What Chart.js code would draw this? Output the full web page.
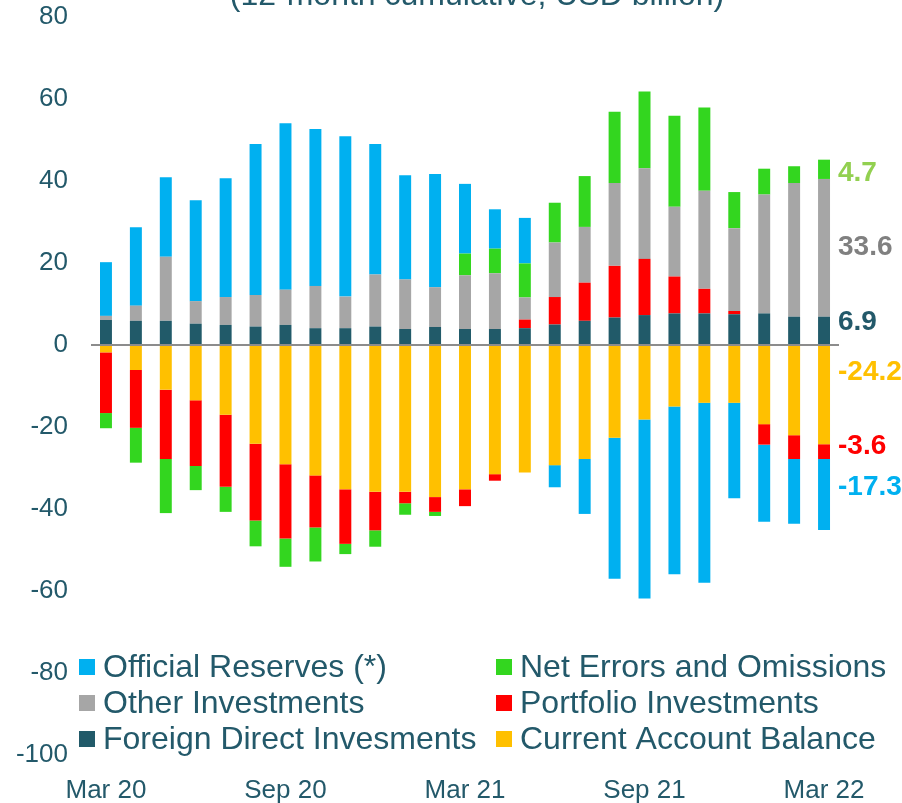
<!DOCTYPE html>
<html>
<head>
<meta charset="utf-8">
<script src="https://cdn.jsdelivr.net/npm/chart.js@4"></script>
<style>
  html, body { margin: 0; padding: 0; background: #fff; }
  #wrap { position: relative; width: 902px; height: 803px; }
</style>
</head>
<body>
<div id="wrap"><canvas id="bop-chart" width="902" height="803"></canvas></div>
<script>
// 12-month cumulative balance of payments, USD billion
const months = ['Mar 20','Apr 20','May 20','Jun 20','Jul 20','Aug 20','Sep 20','Oct 20','Nov 20','Dec 20','Jan 21','Feb 21',
                'Mar 21','Apr 21','May 21','Jun 21','Jul 21','Aug 21','Sep 21','Oct 21','Nov 21','Dec 21','Jan 22','Feb 22','Mar 22'];

const currentAccount = [-1.8,-6.1,-10.9,-13.5,-17.0,-24.1,-29.1,-31.8,-35.2,-35.8,-35.8,-37.1,
                        -35.2,-31.5,-31.1,-29.3,-27.8,-22.6,-18.2,-15.0,-14.1,-14.1,-19.3,-22.0,-24.2];
const fdi = [6.1,5.9,5.9,5.2,4.9,4.5,4.9,4.1,4.1,4.5,3.9,4.4,
             3.9,3.9,4.1,5.0,5.9,6.7,7.3,7.7,7.7,7.5,7.7,6.9,6.9];
const portfolio = [-14.8,-14.1,-16.9,-16.0,-17.6,-18.7,-18.1,-12.7,-13.3,-9.4,-2.8,-3.6,
                   -4.1,-1.6,2.1,6.7,9.3,12.6,13.7,9.0,6.0,0.8,-5.0,-5.8,-3.6];
const otherInv = [1.0,3.7,15.6,5.5,6.8,7.7,8.6,10.3,7.7,12.7,12.1,9.7,
                  13.1,13.6,5.4,13.3,13.6,20.2,22.1,17.0,23.9,20.2,29.0,32.6,33.6];
const netErrors = [-3.7,-8.5,-13.2,-5.9,-6.1,-6.3,-6.9,-8.3,-2.5,-4.0,-2.8,-1.0,
                   5.3,6.0,8.3,9.7,12.4,17.4,18.7,22.2,20.3,8.8,6.3,4.1,4.7];
const reserves = [13.1,19.1,19.4,24.6,29.0,36.8,40.6,38.3,39.1,31.8,25.4,27.6,
                  17.0,9.6,11.1,-5.4,-13.4,-34.4,-43.6,-40.9,-43.9,-23.3,-18.8,-15.8,-17.3];

const yTicks = [80, 60, 40, 20, 0, -20, -40, -60, -80, -100];
const xTickEvery = 6;

const textColor = '#23596A';
const font = "Arial, 'Liberation Sans', sans-serif";

// stacking order follows dataset order (from zero outwards)
const datasets = [
  { label: 'Current Account Balance',   data: currentAccount, backgroundColor: '#FFC000', endColor: '#FFC000', nudge: -23 },
  { label: 'Foreign Direct Invesments', data: fdi,            backgroundColor: '#215A69', endColor: '#23596A', nudge: -8 },
  { label: 'Portfolio Investments',     data: portfolio,      backgroundColor: '#FF0000', endColor: '#FF0000', nudge: -5 },
  { label: 'Other Investments',         data: otherInv,       backgroundColor: '#A6A6A6', endColor: '#808080', nudge: -1 },
  { label: 'Net Errors and Omissions',  data: netErrors,      backgroundColor: '#33D61F', endColor: '#92D050', nudge: 4 },
  { label: 'Official Reserves (*)',     data: reserves,       backgroundColor: '#00B0F0', endColor: '#00B0F0', nudge: -7 }
];

// legend layout: two columns, three rows
const legendOrder = [
  ['Official Reserves (*)', 'Net Errors and Omissions'],
  ['Other Investments', 'Portfolio Investments'],
  ['Foreign Direct Invesments', 'Current Account Balance']
];

const extras = {
  id: 'extras',
  afterDraw(chart) {
    const c = chart.ctx;
    const area = chart.chartArea;
    c.save();

    // title, cut by the top edge like the source
    c.fillStyle = textColor;
    c.font = '32px ' + font;
    c.textAlign = 'center';
    c.textBaseline = 'alphabetic';
    c.fillText('(12-month cumulative, USD billion)', 477, 5);

    // end-of-series value labels
    const last = months.length - 1;
    c.font = 'bold 28px ' + font;
    c.textAlign = 'left';
    c.textBaseline = 'middle';
    chart.data.datasets.forEach((ds, i) => {
      const bar = chart.getDatasetMeta(i).data[last];
      const mid = (bar.y + bar.base) / 2 + ds.nudge;
      c.fillStyle = ds.endColor;
      c.fillText(ds.data[last].toFixed(1), area.right - 1, mid);
    });

    // legend inside the plot area
    const cols = [79, 496];
    const rows = [667, 703, 739];
    c.font = '32px ' + font;
    legendOrder.forEach((row, r) => {
      row.forEach((name, k) => {
        const ds = chart.data.datasets.find(d => d.label === name);
        c.fillStyle = ds.backgroundColor;
        c.fillRect(cols[k], rows[r] - 8, 16, 16);
        c.fillStyle = textColor;
        c.fillText(name, cols[k] + 24, rows[r] + 1);
      });
    });
    c.restore();
  }
};

const ctx = document.getElementById('bop-chart').getContext('2d');
const chart = new Chart(ctx, {
  type: 'bar',
  data: { labels: months, datasets: datasets },
  options: {
    responsive: false,
    animation: false,
    layout: { padding: { top: 17, right: 63, left: 0, bottom: 0 } },
    datasets: { bar: { barPercentage: 0.4, categoryPercentage: 1.0, borderWidth: 0 } },
    plugins: { legend: { display: false }, tooltip: { enabled: false } },
    scales: {
      x: {
        stacked: true,
        grid: { display: false, drawTicks: false },
        border: { display: false },
        ticks: {
          autoSkip: false, maxRotation: 0, padding: 20,
          color: textColor, font: { size: 26, family: font },
          callback: (v, i) => (i % xTickEvery === 0 ? months[i] : '')
        },
        afterFit: s => { s.height = 48; s.paddingLeft = 0; s.paddingRight = 0; }
      },
      y: {
        stacked: true,
        min: -100, max: 80,
        afterBuildTicks: s => { s.ticks = yTicks.map(v => ({ value: v })); },
        grid: {
          drawTicks: false, z: 1, lineWidth: 2,
          color: c => (c.tick && c.tick.value === 0 ? '#8C8C8C' : 'rgba(0,0,0,0)')
        },
        border: { display: false },
        ticks: { padding: 23, color: textColor, font: { size: 26, family: font } },
        afterFit: s => { s.width = 91; s.paddingTop = 0; s.paddingBottom = 0; }
      }
    }
  },
  plugins: [extras]
});
</script>
</body>
</html>
